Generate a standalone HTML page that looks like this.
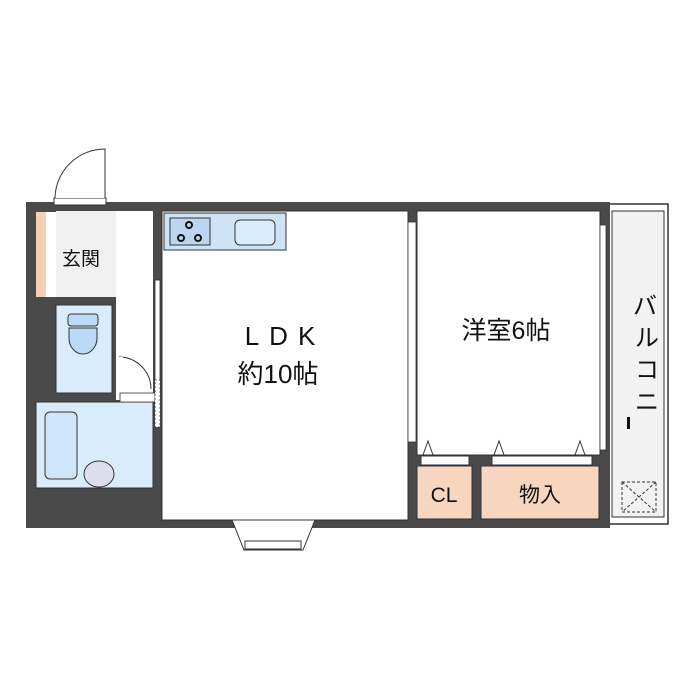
<!DOCTYPE html>
<html><head><meta charset="utf-8"><style>
html,body{margin:0;padding:0;background:#fff;width:700px;height:700px;overflow:hidden}
text{font-family:"Liberation Sans","Noto Sans CJK JP",sans-serif;fill:#111}
</style></head><body>
<svg width="700" height="700" viewBox="0 0 700 700" xmlns="http://www.w3.org/2000/svg">
<!-- balcony -->
<rect x="608" y="204" width="60" height="320" fill="#fff" stroke="#333" stroke-width="1.5"/>
<rect x="612" y="211" width="52" height="306" fill="#f2f2f2" stroke="#333" stroke-width="1"/>
<rect x="622" y="482" width="34" height="30" fill="none" stroke="#333" stroke-dasharray="3,2"/>
<line x1="622" y1="482" x2="656" y2="512" stroke="#333" stroke-dasharray="3,2"/>
<line x1="656" y1="482" x2="622" y2="512" stroke="#333" stroke-dasharray="3,2"/>
<text x="633" y="314" font-size="24" transform="rotate(0)">バ</text>
<text x="635" y="346" font-size="24">ル</text>
<text x="635" y="378" font-size="24">コ</text>
<text x="635" y="410" font-size="24">ニ</text>
<rect x="627" y="417" width="3" height="12" fill="#111"/>
<!-- outer wall -->
<rect x="26" y="202" width="584" height="326" fill="#4a4a4a"/>
<!-- genkan + corridor -->
<rect x="56" y="211" width="60" height="86" fill="#f0f0f0"/>
<rect x="116" y="211" width="37" height="189" fill="#fff"/>
<rect x="116" y="211" width="37" height="86" fill="#fff"/>
<rect x="36" y="212" width="10" height="85" fill="#f7cfb4"/>
<rect x="46" y="212" width="10" height="85" fill="#fff"/>
<text x="62" y="265" font-size="19">玄関</text>
<!-- toilet -->
<rect x="56" y="305" width="56" height="88" fill="#d9ecfb" stroke="#333"/>
<rect x="68" y="314" width="30" height="12" rx="3" fill="#bcdaf5" stroke="#333"/>
<path d="M69 328 h28 v10 a14 16 0 0 1 -28 0 z" fill="#bcdaf5" stroke="#333"/>
<path d="M119 357 a32 32 0 0 1 32 32" fill="none" stroke="#333"/>
<rect x="118" y="357" width="5" height="32" fill="#fff"/>
<!-- bath -->
<rect x="36" y="402" width="117" height="86" fill="#d9ecfb" stroke="#333"/>
<rect x="45" y="412" width="32" height="67" rx="5" fill="#cfe5fa" stroke="#333"/>
<ellipse cx="99" cy="474" rx="15" ry="13" fill="#dde" stroke="#333"/>
<rect x="120" y="393" width="35" height="9" fill="#fff" stroke="#333" stroke-width=".8"/>
<!-- entry door -->
<rect x="54" y="198" width="52" height="7" fill="#fff" stroke="#333"/>
<path d="M55 198 a50 50 0 0 1 50 -49 v49" fill="#fff" stroke="#333"/>
<!-- LDK -->
<rect x="162" y="211" width="246" height="309" fill="#fff" stroke="#333"/>
<rect x="164" y="213" width="122" height="37" fill="#cfe3f7" stroke="#333"/>
<rect x="170" y="218" width="40" height="27" fill="#bcd6f2" stroke="#333"/>
<circle cx="189" cy="225" r="3" fill="none" stroke="#111" stroke-width="2"/>
<circle cx="181" cy="238" r="3" fill="none" stroke="#111" stroke-width="2"/>
<circle cx="198" cy="238" r="3" fill="none" stroke="#111" stroke-width="2"/>
<rect x="235" y="220" width="40" height="25" rx="5" fill="#d9ecfb" stroke="#333"/>
<text x="285" y="345" font-size="26" text-anchor="middle" letter-spacing="10">LDK</text>
<text x="278" y="383" font-size="26" text-anchor="middle">約10帖</text>
<rect x="155" y="280" width="5" height="115" fill="#fff" stroke="#333" stroke-width=".8"/>
<rect x="155" y="380" width="5" height="47" fill="#fff" stroke="#333" stroke-width=".8" stroke-dasharray="2,2"/>
<rect x="408" y="222" width="8" height="220" fill="#fff" stroke="#333" stroke-width=".8"/>
<!-- bay window -->
<path d="M232 520 h83 l-12 30 h-59 z" fill="#fff" stroke="#333"/>
<rect x="245" y="541" width="56" height="8" fill="#fff" stroke="#333"/>
<!-- western room -->
<rect x="417" y="211" width="183" height="244" fill="#fff" stroke="#333"/>
<rect x="600" y="225" width="6" height="225" fill="#fff" stroke="#333" stroke-width=".8"/>
<text x="506" y="339" font-size="25" text-anchor="middle">洋室6帖</text>
<rect x="421" y="456" width="48" height="9" fill="#fff" stroke="#333"/>
<rect x="492" y="456" width="100" height="9" fill="#fff" stroke="#333"/>
<path d="M423 455 l5 -14 l5 14 M494 455 l5 -14 l5 14 M575 455 l5 -14 l5 14" fill="none" stroke="#333"/>
<rect x="417" y="466" width="55" height="53" fill="#f7d6bf" stroke="#333"/>
<rect x="481" y="466" width="118" height="53" fill="#f7d6bf" stroke="#333"/>
<text x="444" y="502" font-size="21" text-anchor="middle">CL</text>
<text x="540" y="502" font-size="21" text-anchor="middle">物入</text>
</svg>
</body></html>
